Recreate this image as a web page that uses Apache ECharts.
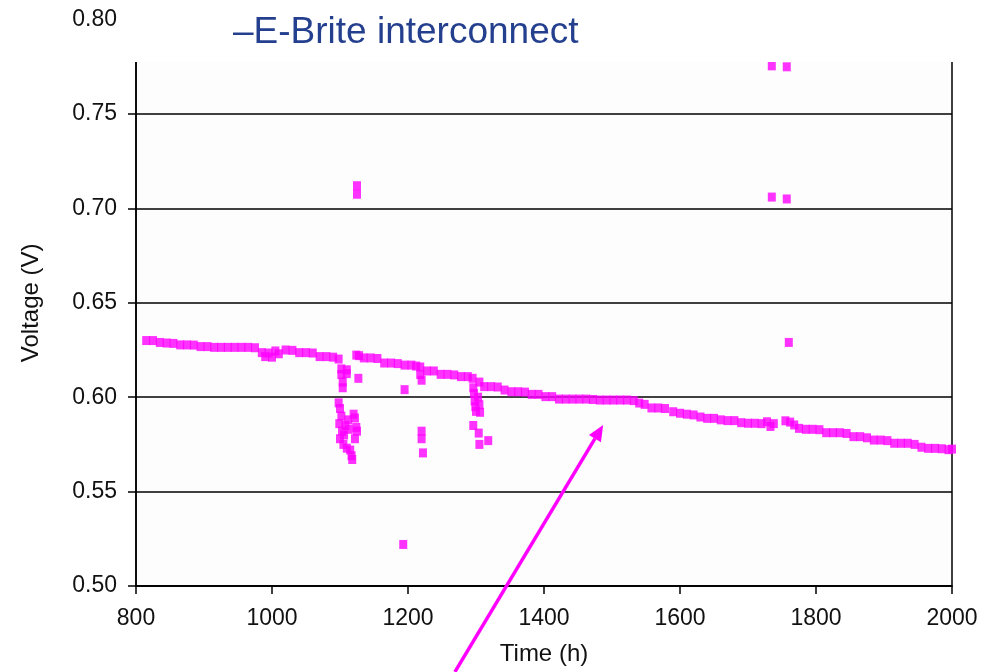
<!DOCTYPE html>
<html>
<head>
<meta charset="utf-8">
<script src="https://cdn.jsdelivr.net/npm/echarts@6/dist/echarts.min.js"></script>
<style>
html,body{margin:0;padding:0;background:#fff;}
#c{width:988px;height:672px;}
</style>
</head>
<body>
<div id="c"></div>
<script>
// Main voltage track (time h, voltage V)
var mainT = [815,825,835,845,855,865,875,885,895,905,915,925,935,945,955,965,975,985,990,995,1000,1005,1010,1020,1030,1040,1050,1060,1070,1080,1090,1098,
1124,1128,1135,1145,1155,1165,1175,1185,1195,1205,1212,1218,1228,1238,1248,1258,1268,1278,1288,1295,1305,1312,1322,1332,1342,1352,1362,1372,1382,1392,1402,1412,1422,1432,1442,1452,1462,1472,1482,1492,1502,1512,1522,1532,1540,1548,1558,1568,1578,1590,1600,1610,1620,1630,1640,1650,1660,1670,1680,1690,1700,1710,1720,1728,1733,1738,
1755,1762,1768,1775,1785,1795,1805,1815,1825,1835,1845,1855,1865,1875,1885,1895,1905,1915,1925,1935,1945,1955,1965,1975,1985,1995,2000];
var mainV = [0.630,0.630,0.629,0.6287,0.6285,0.6277,0.6277,0.6276,0.6268,0.6268,0.6264,0.6264,0.6264,0.6264,0.6264,0.6264,0.6262,0.6236,0.6215,0.6234,0.6212,0.6245,0.6230,0.6250,0.6248,0.6236,0.6236,0.6234,0.6215,0.6215,0.6212,0.6202,
0.6223,0.6220,0.6208,0.6208,0.6205,0.6181,0.6181,0.6178,0.6170,0.6170,0.6165,0.6160,0.6139,0.6139,0.6121,0.6121,0.6118,0.6109,0.6109,0.6100,0.6080,0.6056,0.6056,0.6054,0.6038,0.6029,0.6029,0.6027,0.6015,0.6015,0.6003,0.6003,0.5990,0.5990,0.5990,0.5990,0.5990,0.5988,0.5985,0.5985,0.5985,0.5985,0.5985,0.5982,0.5969,0.5962,0.5943,0.5943,0.5940,0.5923,0.5915,0.5910,0.5906,0.5895,0.5888,0.5888,0.5880,0.5876,0.5876,0.5865,0.5862,0.5862,0.5860,0.5870,0.5845,0.5860,
0.5875,0.5868,0.5853,0.5835,0.5830,0.5830,0.5828,0.5812,0.5812,0.5812,0.5808,0.5791,0.5791,0.5785,0.5773,0.5773,0.5770,0.5756,0.5756,0.5756,0.5750,0.5735,0.5729,0.5729,0.5727,0.5722,0.5725];
// Excursions / outliers
var outT = [1102,1102,1104,1104,1110,1110,
1098,1100,1102,1099,1103,1100,1106,1105,1108,1112,1113,1115,1117,1118,1120,1122,1124,1125,1122,1110,
1125,1125,1127,1193,1195,
1218,1220,1220,1220,1222,
1296,1297,1298,1299,1300,1303,1305,1306,1296,1304,1305,1318,
1735,1757,1735,1757,1760];
var outV = [0.615,0.612,0.608,0.605,0.6145,0.6125,
0.597,0.594,0.590,0.586,0.582,0.578,0.580,0.575,0.585,0.588,0.583,0.572,0.569,0.567,0.591,0.589,0.584,0.582,0.578,0.573,
0.712,0.7075,0.610,0.522,0.604,
0.612,0.609,0.582,0.578,0.5705,
0.605,0.602,0.598,0.595,0.5925,0.600,0.596,0.592,0.585,0.581,0.575,0.577,
0.7755,0.775,0.706,0.705,0.629];
// Tick labels
var xTicks = [800,1000,1200,1400,1600,1800,2000];
var yTicks = [0.50,0.55,0.60,0.65,0.70,0.75,0.80];
// Arrow annotation endpoints (data space)
var arrowFrom = [1269, 0.4545];
var arrowTo = [1487, 0.5853];

var pts = [];
for (var i = 0; i < mainT.length; i++) pts.push([mainT[i], mainV[i]]);
for (var j = 0; j < outT.length; j++) pts.push([outT[j], outV[j]]);

var chart = echarts.init(document.getElementById('c'), null, {renderer: 'canvas'});
var font = 'Liberation Sans, Arial, sans-serif';
chart.setOption({
  backgroundColor: '#ffffff',
  animation: false,
  grid: {left: 136, right: 36, top: 19.6, bottom: 86, show: true, borderColor: '#000', borderWidth: 1.5, backgroundColor: '#fdfdfd'},
  xAxis: {
    type: 'value', min: xTicks[0], max: xTicks[xTicks.length-1], interval: 200,
    name: 'Time (h)', nameLocation: 'middle', nameGap: 56,
    nameTextStyle: {fontSize: 24, color: '#111', fontFamily: font},
    axisLine: {show: true, lineStyle: {color: '#000', width: 1.5}},
    axisTick: {show: true, length: 8, lineStyle: {color: '#000', width: 1.5}},
    axisLabel: {fontSize: 23, color: '#111', fontFamily: font, margin: 21,
      formatter: function (v) { return String(v); }},
    splitLine: {show: false}
  },
  yAxis: {
    type: 'value', min: yTicks[0], max: yTicks[yTicks.length-1], interval: 0.05,
    name: 'Voltage (V)', nameLocation: 'middle', nameGap: 93,
    nameTextStyle: {fontSize: 24, color: '#111', fontFamily: font},
    axisLine: {show: true, lineStyle: {color: '#000', width: 1.5}},
    axisTick: {show: true, length: 8, lineStyle: {color: '#000', width: 1.5}},
    axisLabel: {fontSize: 23, color: '#111', fontFamily: font, margin: 19,
      formatter: function (v) { return v.toFixed(2); }},
    splitLine: {show: true, lineStyle: {color: '#000', width: 1.5}}
  },
  series: [{
    type: 'scatter', data: pts, symbol: 'rect', symbolSize: [8, 9],
    itemStyle: {color: '#ff00ff'}, z: 5
  }]
});

var p1 = chart.convertToPixel({gridIndex: 0}, arrowFrom);
var p2 = chart.convertToPixel({gridIndex: 0}, arrowTo);
var ang = Math.atan2(p2[1] - p1[1], p2[0] - p1[0]);
var hl = 16, hw = 7;
var bx = p2[0] - hl * Math.cos(ang), by = p2[1] - hl * Math.sin(ang);
var nx = -Math.sin(ang), ny = Math.cos(ang);
chart.setOption({
  graphic: [
    {type: 'rect', shape: {x: 120, y: 0, width: 840, height: 62}, style: {fill: '#ffffff'}, z: 50},
    {type: 'text', left: 233, top: 14, style: {text: '\u2013E-Brite interconnect', fill: '#233f8e', font: '37px ' + font}, z: 51},
    {type: 'line', shape: {x1: p1[0], y1: p1[1], x2: bx, y2: by}, style: {stroke: '#ff00ff', lineWidth: 3.5}, z: 60},
    {type: 'polygon', shape: {points: [[p2[0], p2[1]], [bx + nx * hw, by + ny * hw], [bx - nx * hw, by - ny * hw]]}, style: {fill: '#ff00ff'}, z: 60}
  ]
});
</script>
</body>
</html>
